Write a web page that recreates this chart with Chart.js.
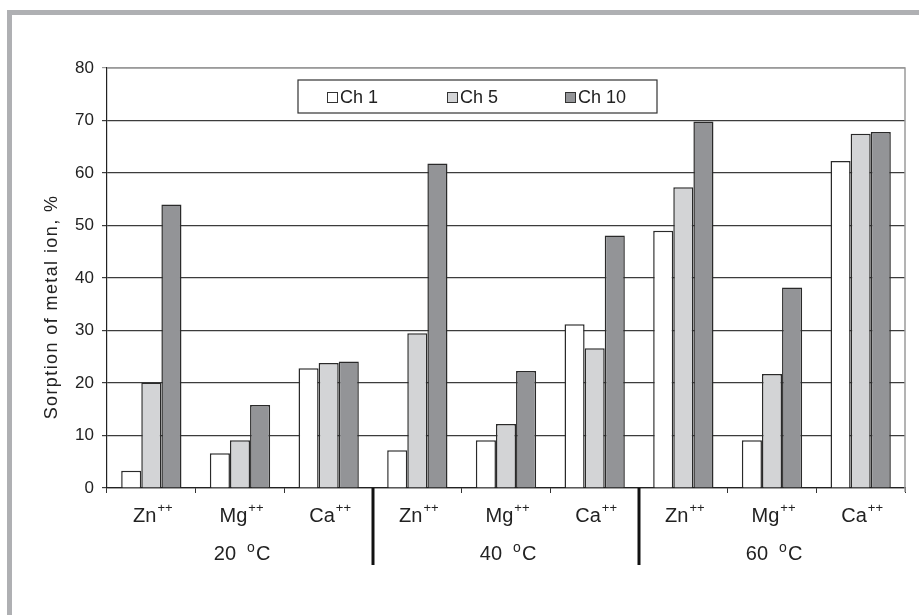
<!DOCTYPE html>
<html>
<head>
<meta charset="utf-8">
<script src="https://cdn.jsdelivr.net/npm/chart.js@4"></script>
<style>
body{margin:0;background:#fff;overflow:hidden}
#wrap{position:relative;width:919px;height:615px}
#c{position:absolute;left:0;top:0}
.band{position:absolute;background:#afb0b3}
</style>
</head>
<body>
<div id="wrap">
<canvas id="c" width="919" height="615"></canvas>
<div class="band" style="left:7px;top:10px;width:912px;height:5px"></div>
<div class="band" style="left:7px;top:10px;width:5px;height:605px"></div>
</div>
<script>
// ions per temperature group
const ions=['Zn','Mg','Ca','Zn','Mg','Ca','Zn','Mg','Ca']
const temps=['20','40','60']
const seriesNames=['Ch 1','Ch 5','Ch 10']
const ch1=[3.3,6.6,22.8,7.2,9.1,31.2,49.0,9.1,62.3]
const ch5=[20.1,9.1,23.8,29.5,12.2,26.6,57.3,21.7,67.5]
const ch10=[54.0,15.8,24.1,61.8,22.3,48.1,69.8,38.2,67.8]
const yTicks=[0,10,20,30,40,50,60,70,80]

const fills=['#ffffff','#d3d4d6','#939497']
const FONT='"Liberation Sans", Arial, sans-serif'

function sup(ctx,base,s,x,y,size,ssize,align){
  ctx.font=size+'px '+FONT
  let w1=ctx.measureText(base).width
  ctx.font=ssize+'px '+FONT
  let w2=ctx.measureText(s).width
  let x0=align=='center'?x-(w1+w2)/2:x
  ctx.textAlign='left'
  ctx.font=size+'px '+FONT
  ctx.fillText(base,x0,y)
  ctx.font=ssize+'px '+FONT
  ctx.fillText(s,x0+w1+1,y-size*0.5)
}

const extras={
  id:'extras',
  afterDraw(chart){
    const ctx=chart.ctx, a=chart.chartArea, x=chart.scales.x
    ctx.save()
    // top and right frame of plot
    ctx.strokeStyle='#9a9a9a';ctx.lineWidth=1.5
    ctx.beginPath();ctx.moveTo(a.left,a.top);ctx.lineTo(a.right,a.top);ctx.lineTo(a.right,a.bottom+4);ctx.stroke()
    ctx.fillStyle='#222';ctx.textBaseline='alphabetic'
    // category labels
    ions.forEach((ion,i)=>{
      sup(ctx,ion,'++',x.getPixelForValue(i)+1,a.bottom+34,20,13,'center')
    })
    // group labels and separators
    temps.forEach((t,g)=>{
      let cx=x.getPixelForValue(g*3+1)
      let by=a.bottom+72
      ctx.font='20px '+FONT
      ctx.textAlign='right'
      ctx.fillText(t,cx-4,by)
      ctx.textAlign='left'
      ctx.font='14px '+FONT
      ctx.fillText('o',cx+7,by-8)
      ctx.font='20px '+FONT
      ctx.fillText('C',cx+16,by)
      if(g>0){
        let sx=(x.getPixelForValue(g*3-1)+x.getPixelForValue(g*3))/2
        ctx.strokeStyle='#111';ctx.lineWidth=3
        ctx.beginPath();ctx.moveTo(sx,a.bottom);ctx.lineTo(sx,a.bottom+77);ctx.stroke()
      }
    })
    // y title
    ctx.save()
    ctx.translate(57,307);ctx.rotate(-Math.PI/2)
    ctx.font='18px '+FONT;ctx.textAlign='center';ctx.fillStyle='#222'
    ctx.letterSpacing='1.4px'
    ctx.fillText('Sorption of metal ion, %',0,0)
    ctx.restore()
    // legend box
    let lx=a.left+191, ly=a.top+12, lw=359, lh=33
    ctx.fillStyle='#fff';ctx.fillRect(lx,ly,lw,lh)
    ctx.strokeStyle='#333';ctx.lineWidth=1.2;ctx.strokeRect(lx,ly,lw,lh)
    const offs=[29,149,267]
    chart.data.datasets.forEach((d,i)=>{
      let px=lx+offs[i]
      ctx.fillStyle=d.backgroundColor;ctx.fillRect(px,ly+12,10,10)
      ctx.strokeStyle='#333';ctx.lineWidth=1;ctx.strokeRect(px+0.5,ly+12.5,10,10)
      ctx.fillStyle='#222';ctx.font='18px '+FONT;ctx.textAlign='left'
      ctx.fillText(d.label,px+13,ly+23)
    })
    ctx.restore()
  }
}

new Chart(document.getElementById('c'),{
  type:'bar',
  data:{
    labels:ions,
    datasets:[ch1,ch5,ch10].map((v,i)=>({
      label:seriesNames[i],data:v,backgroundColor:fills[i],
      borderColor:'#2a2a2a',borderWidth:1.5,
      barPercentage:1,categoryPercentage:0.68
    }))
  },
  options:{
    responsive:false,animation:false,
    layout:{padding:{top:68,right:14,left:0,bottom:0}},
    plugins:{legend:{display:false},tooltip:{enabled:false}},
    scales:{
      x:{
        afterFit(s){s.height=127},
        ticks:{display:false},
        grid:{offset:true,drawOnChartArea:false,drawTicks:true,tickLength:5,color:'#333'},
        border:{color:'#222',width:1.2}
      },
      y:{
        min:0,max:80,
        afterFit(s){s.width=107},
        afterBuildTicks(s){s.ticks=yTicks.map(v=>({value:v}))},
        ticks:{font:{family:FONT,size:17},color:'#222',padding:8},
        grid:{color:c=>c.tick&&c.tick.value==80?'#9a9a9a':'#3c3c3c',lineWidth:1.2,tickLength:5},
        border:{color:'#222',width:1.2}
      }
    }
  },
  plugins:[extras]
})
</script>
</body>
</html>
